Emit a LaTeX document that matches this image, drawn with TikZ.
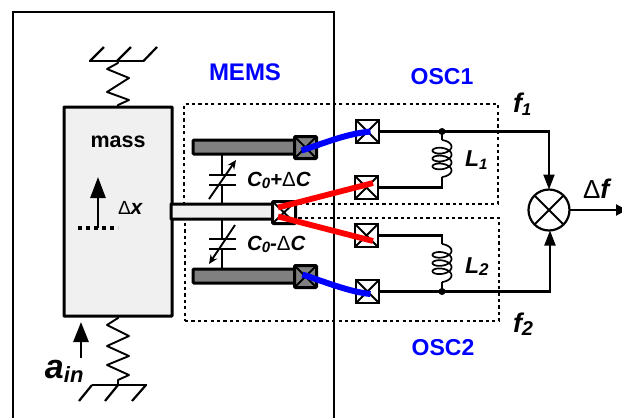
\documentclass[tikz,border=0pt]{standalone}
\usepackage{fontspec}
\setmainfont{Liberation Sans}
\usetikzlibrary{arrows.meta}
\definecolor{massfill}{HTML}{F0F0F0}
\definecolor{elec}{HTML}{808080}
\definecolor{mblue}{HTML}{0000FF}
\definecolor{mred}{HTML}{FF0000}
\newcommand{\lab}[1]{\fontsize{#1}{#1}\selectfont\bfseries}
\newcommand{\labi}[1]{\fontsize{#1}{#1}\selectfont\bfseries\itshape}
\newcommand{\dl}[1]{{\fontsize{#1}{#1}\selectfont\mdseries\upshape\symbol{"0394}}}
\newcommand{\low}[3]{\raisebox{-#1pt}{\labi{#2}#3}}
\tikzset{
  every node/.style={inner sep=0pt,outer sep=0pt},
  wire/.style={line width=2.1pt,line join=miter},
  arrowwire/.style={wire,-{Triangle[length=15pt,width=11pt]}},
  bigarrow/.style={line width=2.8pt,-{Triangle[length=21pt,width=15pt]}},
  capbar/.style={line width=1.9pt,-{Stealth[length=9pt,width=8pt]}},
  dotbox/.style={draw,line width=1.5pt,dash pattern=on 3.2pt off 3.2pt},
  term/.style={draw,fill=white,line width=2.2pt,minimum width=23pt,minimum height=23pt},
  gterm/.style={draw,fill=elec,line width=3pt,minimum width=22pt,minimum height=22pt,rounded corners=1pt},
  cterm/.style={draw,fill=white,line width=3pt,minimum width=23pt,minimum height=22pt,rounded corners=1pt},
  bar/.style={draw,fill=elec,line width=3pt,rounded corners=1pt,minimum height=13pt},
  massbox/.style={draw,fill=massfill,line width=3pt,rounded corners=0.5pt},
  mixer/.style={draw,circle,line width=2.2pt,fill=white,minimum size=41pt},
  spring/.style={line width=1.9pt,line join=round},
  dot/.style={circle,fill=black,minimum size=7pt},
  bluelink/.style={draw=mblue,line width=6pt},
  redlink/.style={draw=mred,line width=5.8pt},
}
\newcommand{\xmark}[2][1.9pt]{\draw[line width=#1] (#2.north west)--(#2.south east) (#2.north east)--(#2.south west);}
\begin{document}
\begin{tikzpicture}[x=1pt,y=-1pt]
\useasboundingbox (0,0) rectangle (622,418);
% outer frame
\draw[line width=2pt] (12.5,425) -- (12.5,11.5) -- (333.5,11.5) -- (333.5,425);
% dotted boxes
\node[dotbox,minimum width=314pt,minimum height=100pt,anchor=north west] (osc1box) at (184,104) {};
\node[dotbox,minimum width=314pt,minimum height=103pt,anchor=north west] (osc2box) at (185,218) {};
% mass
\node[massbox,minimum width=108pt,minimum height=209pt,anchor=north west] (mass) at (64,107) {};
\node at (118,142) {\lab{21.5}mass};
% up arrow + dashed reference
\coordinate (xbase) at (98,228);
\coordinate (xtip) at (98,177);
\coordinate (dl) at (78,228);
\coordinate (dr) at (118,228);
\draw[bigarrow] (xbase) -- (xtip);
\draw[line width=3.4pt,dash pattern=on 4pt off 4pt] (dl) -- (dr);
\node[anchor=west] at (118,208) {\dl{19}\labi{21}x};
% top spring
\coordinate (gt) at (117.5,61);
\draw[line width=2.2pt] (89,61) -- (143.5,61);
\foreach \a/\b in {90/104,117/131,143.5/157}{\draw[line width=2.2pt] (\a,61) -- (\b,47);}
\draw[spring] (gt) -- (118,63) -- (107,69) -- (129,78) -- (107,92) -- (129,100) -- (118,105) -- (mass.north -| gt);
% bottom spring
\coordinate (gb) at (118,385);
\draw[line width=2.2pt] (92,385) -- (147,385);
\foreach \a/\b in {92/79,118/105,146/132}{\draw[line width=2.2pt] (\a,385) -- (\b,401);}
\draw[spring] (mass.south -| gb) -- (118,318) -- (107,325) -- (129,336) -- (107,346) -- (129,356) -- (107,365) -- (129,375) -- (118,380) -- (gb);
% acceleration
\coordinate (ab) at (81,358);
\coordinate (at) at (81,322);
\draw[line width=2.8pt,-{Triangle[length=20pt,width=15pt]}] (ab) -- (at);
\node[anchor=base west] at (45,378) {\labi{34}a\low{4}{22}{in}};
% electrodes
\node[bar,minimum width=103pt,minimum height=14pt,anchor=north west] (bar1) at (193,140) {};
\node[bar,minimum width=103pt,minimum height=14pt,anchor=north west] (bar2) at (193,269) {};
\node[massbox,minimum width=102pt,minimum height=15pt,anchor=north west] (beam) at (171,204) {};
\node[gterm] (s1) at (305.5,147.5) {}; \xmark{s1}
\node[gterm] (s2) at (305.5,276.5) {}; \xmark{s2}
\node[cterm] (sc) at (284,212.5) {}; \xmark{sc}
% capacitors
\coordinate (c1a) at (222,179.5);
\coordinate (c2a) at (222,238.5);
\draw[wire] (bar1.south -| c1a) -- (222,175) (222,185) -- (beam.north -| c1a);
\draw[wire] (209,175) -- (236,175) (209,185) -- (236,185);
\draw[capbar] (209,199) -- (236,160);
\draw[wire] (beam.south -| c2a) -- (222,239) (222,249) -- (bar2.north -| c2a);
\draw[wire] (209,239) -- (236,239) (209,249) -- (236,249);
\draw[capbar] (235,225) -- (209,264);
\node[anchor=base west] at (247,186) {\labi{20.5}C\low{2.5}{15}{0}\lab{20.5}+\dl{20.5}\labi{20.5}C};
\node[anchor=base west] at (247,250) {\labi{20.5}C\low{2.5}{15}{0}\lab{20.5}-\dl{20.5}\labi{20.5}C};
% terminals
\node[term] (t1) at (367.5,131.5) {}; \xmark{t1}
\node[term] (t2) at (366.5,187.5) {}; \xmark{t2}
\node[term] (t3) at (366.5,235.5) {}; \xmark{t3}
\node[term] (t4) at (367.5,291.5) {}; \xmark{t4}
% mixer and wires
\node[mixer] (mix) at (549,210) {};
\draw[line width=1.9pt] (mix.45) -- (mix.225) (mix.135) -- (mix.315);
\node[dot] (d1) at (442,131.5) {};
\node[dot] (d2) at (442,291.5) {};
\coordinate (l1top) at (442,140);
\coordinate (l1bot) at (442,177);
\coordinate (l2top) at (442,244);
\coordinate (l2bot) at (442,282);
\draw[wire] (t1.east) -- (d1.center);
\draw[arrowwire] (d1.center) -| (mix.north);
\draw[wire] (t2.east) -| (l1bot);
\draw[wire] (d1.center) -- (l1top);
\draw[wire] (t3.east) -| (l2top);
\draw[wire] (d2.center) -- (l2bot);
\draw[wire] (t4.east) -- (d2.center);
\draw[arrowwire] (d2.center) -| ([xshift=1pt]mix.south);
\coordinate (out) at (627,210);
\draw[wire,-{Triangle[length=11pt,width=11pt]}] (mix.east) -- (out);
% inductors
\draw[line width=1.7pt,smooth,samples=150,domain=0:1260,variable=\t]
  plot ({442+9.5*sin(\t)},{140+\t/360*7.9+(1-cos(\t))*4.7});
\draw[line width=1.7pt,smooth,samples=150,domain=0:1260,variable=\t]
  plot ({442+9.5*sin(\t)},{244+\t/360*8.2+(1-cos(\t))*4.7});
% links
\draw[bluelink] (s1.center) ++(-4,3) .. controls (325,143) and (345,134) .. ([xshift=3pt]t1.center);
\draw[bluelink] (s2.center) ++(-3,-2) .. controls (325,282) and (350,292) .. ([xshift=3pt,yshift=-2.5pt]t4.center);
\draw[redlink] ([xshift=-6pt,yshift=5pt]sc.center) -- ([xshift=6.5pt,yshift=4.5pt]t2.center);
\draw[redlink] ([xshift=-6pt,yshift=-4pt]sc.center) -- ([xshift=6.5pt,yshift=-5.5pt]t3.center);
% labels
\node[text=mblue] at (245,72) {\lab{24}MEMS};
\node[text=mblue] at (442,77) {\lab{23}OSC1};
\node[text=mblue] at (443,348) {\lab{23}OSC2};
\node[anchor=base west] at (513,112) {\labi{27}f\low{3}{17}{1}};
\node[anchor=base west] at (513,332) {\labi{27}f\low{3}{20}{2}};
\node[anchor=base west] at (465,166) {\labi{23}L\low{3}{15}{1}};
\node[anchor=base west] at (465,273) {\labi{23}L\low{2}{17}{2}};
\node[anchor=base west] at (583,198) {\dl{26}\labi{27}f};
\end{tikzpicture}
\end{document}
